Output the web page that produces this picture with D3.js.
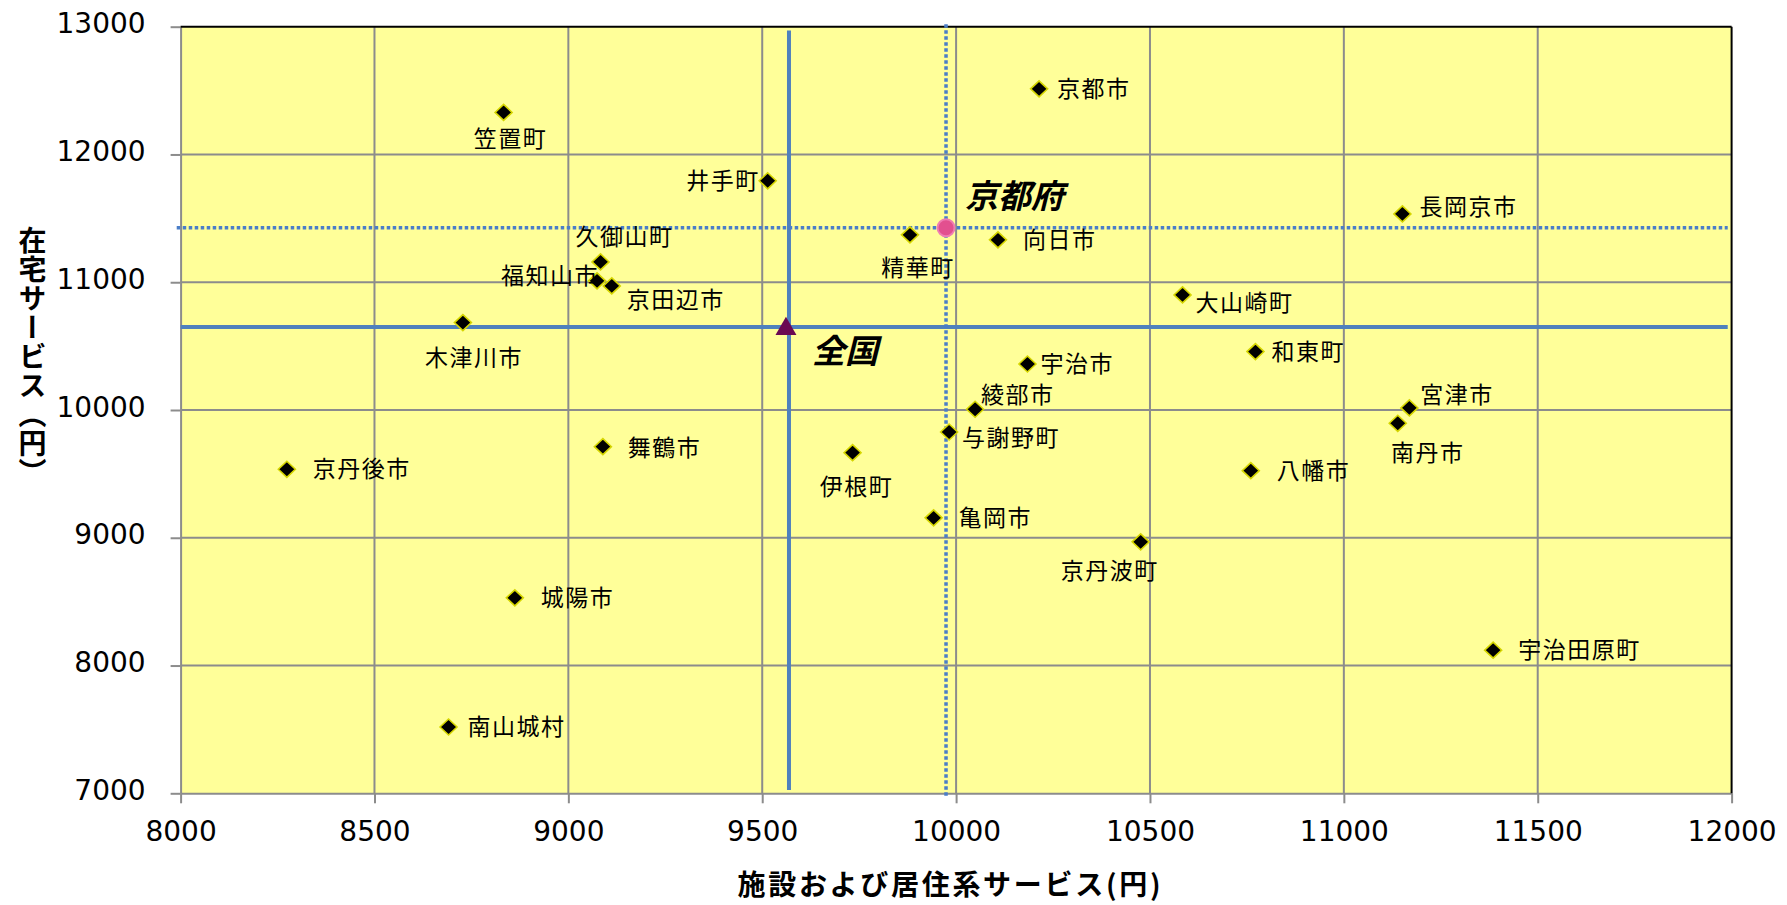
<!DOCTYPE html>
<html>
<head>
<meta charset="utf-8">
<script src="https://cdn.jsdelivr.net/npm/d3@7"></script>
<style>
  html, body { margin: 0; padding: 0; background: #ffffff; }
  svg { display: block; }
</style>
</head>
<body>
<script>
// ---- data ----
const names = ["京都市","笠置町","井手町","精華町","向日市","長岡京市","久御山町","福知山市","京田辺市","大山崎町",
  "木津川市","和東町","宇治市","綾部市","宮津市","南丹市","与謝野町","舞鶴市","伊根町","京丹後市",
  "八幡市","亀岡市","京丹波町","城陽市","宇治田原町","南山城村"];
const facilityValues = [10214, 8833, 9514, 9881, 10108, 11151, 9083, 9074, 9112, 10584,
  8728, 10772, 10184, 10049, 11169, 11139, 9982, 9089, 9733, 8274,
  10760, 9942, 10476, 8862, 11385, 8691];
const homeValues = [12514, 12329, 11794, 11371, 11332, 11535, 11159, 11011, 10971, 10901,
  10684, 10457, 10360, 10006, 10016, 9896, 9828, 9713, 9666, 9536,
  9525, 9156, 8968, 8530, 8120, 7519];
const prefecture = { name: "京都府", x: 9974, y: 11426 };
const national = { name: "全国", x: 9569, y: 10650 };
const xTicks = [8000, 8500, 9000, 9500, 10000, 10500, 11000, 11500, 12000];
const yTicks = [7000, 8000, 9000, 10000, 11000, 12000, 13000];
const xTitle = "施設および居住系サービス(円)";
const yTitle = "在宅サービス（円）";

// label placement (anchor, dx, dy in px) — layout only
const labelPlace = {
  "京都市": ["start", 18, 0], "笠置町": ["middle", 7, 27], "井手町": ["end", -8, 0],
  "精華町": ["middle", 8, 33], "向日市": ["start", 25, 0], "長岡京市": ["start", 17, -7],
  "久御山町": ["middle", 24, -25], "福知山市": ["end", 2, -5], "京田辺市": ["start", 15, 14],
  "大山崎町": ["start", 13, 8], "木津川市": ["middle", 11, 35], "和東町": ["start", 16, 0],
  "宇治市": ["start", 13, 0], "綾部市": ["start", 6, -14], "宮津市": ["start", 11, -13],
  "南丹市": ["middle", 30, 30], "与謝野町": ["start", 13, 6], "舞鶴市": ["start", 25, 1],
  "伊根町": ["middle", 4, 34], "京丹後市": ["start", 26, 0], "八幡市": ["start", 26, 0],
  "亀岡市": ["start", 25, 0], "京丹波町": ["middle", -31, 29], "城陽市": ["start", 26, 0],
  "宇治田原町": ["start", 25, 0], "南山城村": ["start", 19, 0]
};

// ---- layout ----
const W = 1787, H = 905;
const m = { left: 180.6, top: 26.7, right: W - 1731.6, bottom: H - 793.3 };
const pw = W - m.left - m.right, ph = H - m.top - m.bottom;

const svg = d3.select("body").append("svg").attr("width", W).attr("height", H);
const g = svg.append("g").attr("transform", `translate(${m.left},${m.top})`);

const x = d3.scaleLinear().domain([8000, 12000]).range([0, pw]);
const y = d3.scaleLinear().domain([7000, 13000]).range([ph, 0]);

g.append("rect").attr("width", pw).attr("height", ph).attr("fill", "#FFFF99");

// grid
g.append("g").selectAll("line").data(xTicks.slice(1, -1)).join("line")
  .attr("x1", d => x(d)).attr("x2", d => x(d)).attr("y1", 0).attr("y2", ph)
  .attr("stroke", "#8c8c8c").attr("stroke-width", 2);
g.append("g").selectAll("line").data(yTicks.slice(1, -1)).join("line")
  .attr("y1", d => y(d)).attr("y2", d => y(d)).attr("x1", 0).attr("x2", pw)
  .attr("stroke", "#8c8c8c").attr("stroke-width", 2);

// axes
const tickFont = "'DejaVu Sans', Verdana, sans-serif";
const xAxis = g.append("g").attr("transform", `translate(0,${ph})`)
  .call(d3.axisBottom(x).tickValues(xTicks).tickSize(10).tickPadding(18).tickSizeOuter(0).tickFormat(d3.format("d")));
const yAxis = g.append("g")
  .call(d3.axisLeft(y).tickValues(yTicks).tickSize(10).tickPadding(25).tickSizeOuter(0).tickFormat(d3.format("d")));
[xAxis, yAxis].forEach(a => {
  a.select(".domain").attr("stroke", "#8c8c8c").attr("stroke-width", 2);
  a.selectAll(".tick line").attr("stroke", "#8c8c8c").attr("stroke-width", 2);
  a.selectAll(".tick text").attr("fill", "#000").style("font-family", tickFont).style("font-size", "28px");
});
yAxis.selectAll(".tick text").attr("dy", "0.22em");
xAxis.selectAll(".tick text").attr("dy", "0.71em");

// top & right borders
g.append("line").attr("x1", 0).attr("x2", pw).attr("y1", 0).attr("y2", 0).attr("stroke", "#000").attr("stroke-width", 2);
g.append("line").attr("x1", pw).attr("x2", pw).attr("y1", 0).attr("y2", ph).attr("stroke", "#000").attr("stroke-width", 2);

// reference lines: national (solid)
const blue = "#4f81bd";
g.append("line").attr("x1", x(national.x)).attr("x2", x(national.x))
  .attr("y1", y(12970)).attr("y2", y(7025)).attr("stroke", blue).attr("stroke-width", 4);
g.append("line").attr("x1", x(8000)).attr("x2", x(11990))
  .attr("y1", y(national.y)).attr("y2", y(national.y)).attr("stroke", blue).attr("stroke-width", 4);
// prefecture (dotted)
const dotBlue = "#4a7ec8";
g.append("line").attr("x1", x(prefecture.x)).attr("x2", x(prefecture.x))
  .attr("y1", y(13020)).attr("y2", y(6970)).attr("stroke", dotBlue).attr("stroke-width", 3.5).attr("stroke-dasharray", "3.5,2.5");
g.append("line").attr("x1", x(7990)).attr("x2", x(11990))
  .attr("y1", y(prefecture.y)).attr("y2", y(prefecture.y)).attr("stroke", dotBlue).attr("stroke-width", 3.5).attr("stroke-dasharray", "3.5,2.5");

// points
const pts = names.map((n, i) => ({ name: n, x: facilityValues[i], y: homeValues[i] }));
const diamond = "M0,-8L8.5,0L0,8L-8.5,0Z";
g.append("g").selectAll("path").data(pts).join("path")
  .attr("d", diamond)
  .attr("transform", d => `translate(${x(d.x)},${y(d.y)})`)
  .attr("fill", "#000").attr("stroke", "#d6d600").attr("stroke-width", 1.6);

const labFont = "'Noto Sans CJK JP', 'Noto Sans', sans-serif";
g.append("g").selectAll("text").data(pts).join("text")
  .attr("x", d => x(d.x) + labelPlace[d.name][1])
  .attr("y", d => y(d.y) + labelPlace[d.name][2])
  .attr("dy", "0.35em")
  .attr("text-anchor", d => labelPlace[d.name][0])
  .style("font-family", labFont).style("font-size", "23px").style("letter-spacing", "1.5px")
  .attr("fill", "#000")
  .text(d => d.name);

// prefecture marker
g.append("circle").attr("cx", x(prefecture.x)).attr("cy", y(prefecture.y)).attr("r", 8.5)
  .attr("fill", "#e2508f").attr("stroke", "#ef7db3").attr("stroke-width", 2);
// national marker
g.append("path").attr("d", d3.symbol().type(d3.symbolTriangle).size(190)())
  .attr("transform", `translate(${x(national.x) - 3},${y(national.y) + 2})`)
  .attr("fill", "#6b0a52");

// big labels
g.append("text").attr("x", x(prefecture.x) + 19).attr("y", y(prefecture.y) - 31).attr("dy", "0.35em")
  .style("font-family", labFont).style("font-size", "33px").style("font-weight", "bold").style("font-style", "italic")
  .text(prefecture.name);
g.append("text").attr("x", x(national.x) + 23).attr("y", y(national.y) + 25).attr("dy", "0.35em")
  .style("font-family", labFont).style("font-size", "33px").style("font-weight", "bold").style("font-style", "italic")
  .text(national.name);

// axis titles
svg.append("text").attr("x", 949).attr("y", 885).attr("dy", "0.35em").attr("text-anchor", "middle")
  .attr("textLength", 423).attr("lengthAdjust", "spacing")
  .style("font-family", labFont).style("font-size", "28px").style("font-weight", "bold")
  .text(xTitle);
svg.append("text").attr("x", 32.5).attr("y", 357).attr("text-anchor", "middle")
  .style("writing-mode", "vertical-rl")
  .style("font-family", labFont).style("font-size", "28px").style("font-weight", "bold")
  .style("letter-spacing", "1px")
  .text(yTitle);
</script>
</body>
</html>
